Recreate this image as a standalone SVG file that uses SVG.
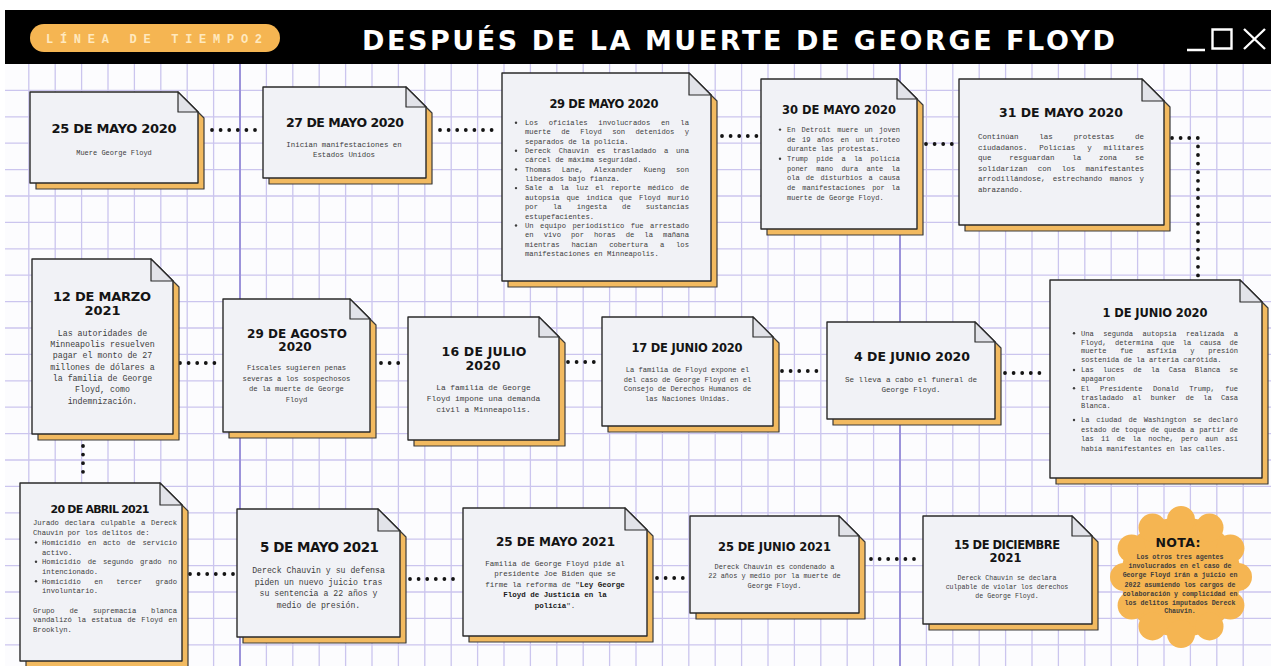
<svg xmlns="http://www.w3.org/2000/svg" width="1274" height="666" viewBox="0 0 1274 666">
<style>
.t{font-family:"DejaVu Sans","Liberation Sans",sans-serif;font-weight:bold;fill:#141414;text-anchor:middle}
.b{font-family:"Liberation Mono","DejaVu Sans Mono",monospace;fill:#3d3d3d}
.m{text-anchor:middle}
.card{fill:#F1F2F6;stroke:#2a2a2a;stroke-width:1.4;stroke-linejoin:round}
.sh{fill:#F2BA60;stroke:#3a3a3a;stroke-width:1.2;stroke-linejoin:round}
.fold{fill:#E2E3E9;stroke:#2a2a2a;stroke-width:1.2;stroke-linejoin:round}
.dots{fill:none;stroke:#141414;stroke-width:3.8;stroke-linecap:round;stroke-dasharray:0 8.6}
.bul{fill:#3d3d3d}
.grid{fill:none;stroke:#CBC5EE;stroke-width:1.3}
.gridh{fill:none;stroke:#9C93DA;stroke-width:2}
</style>
<rect width="1274" height="666" fill="#FFFFFF"/>
<g id="background">
<rect x="5" y="64" width="1266" height="602" fill="#FCFCFE"/>
<path class="grid" d="M28.8 64v602m26.4-602v602m26.4-602v602m26.4-602v602m26.4-602v602m26.4-602v602m26.4-602v602m26.4-602v602m26.4-602v602m26.4-602v602
m26.4-602v602m26.4-602v602m26.4-602v602m26.4-602v602m26.4-602v602m26.4-602v602m26.4-602v602m26.4-602v602m26.4-602v602m26.4-602v602
m26.4-602v602m26.4-602v602m26.4-602v602m26.4-602v602m26.4-602v602m26.4-602v602m26.4-602v602m26.4-602v602m26.4-602v602m26.4-602v602
m26.4-602v602m26.4-602v602m26.4-602v602m26.4-602v602m26.4-602v602m26.4-602v602m26.4-602v602m26.4-602v602m26.4-602v602m26.4-602v602
m26.4-602v602m26.4-602v602m26.4-602v602m26.4-602v602m26.4-602v602m26.4-602v602m26.4-602v602"/>
<path class="grid" d="M5 90.4h1266m-1266 26.4h1266m-1266 26.4h1266m-1266 26.4h1266m-1266 26.4h1266m-1266 26.4h1266m-1266 26.4h1266m-1266 26.4h1266
m-1266 26.4h1266m-1266 26.4h1266m-1266 26.4h1266m-1266 26.4h1266m-1266 26.4h1266m-1266 26.4h1266m-1266 26.4h1266m-1266 26.4h1266
m-1266 26.4h1266m-1266 26.4h1266m-1266 26.4h1266m-1266 26.4h1266m-1266 26.4h1266m-1266 26.4h1266"/>
<path class="gridh" d="M240 64V666M900 64V666"/>
</g>
<g id="header">
<rect x="5" y="10" width="1266" height="54" fill="#000000"/>
<rect x="30" y="24" width="250" height="28" rx="14" fill="#F5B552"/>
<text x="46" y="42.5" font-family="'Liberation Mono','DejaVu Sans Mono',monospace" font-weight="bold" font-size="12" fill="#FFE9BF" textLength="216" lengthAdjust="spacing">LÍNEA DE TIEMPO2</text>
<text x="362" y="50" font-family="'DejaVu Sans','Liberation Sans',sans-serif" font-weight="bold" font-size="27" fill="#FFFFFF" textLength="753" lengthAdjust="spacing">DESPUÉS DE LA MUERTE DE GEORGE FLOYD</text>
<path d="M1187 50H1205M1212.5 29.5h19v19h-19zM1244 29l21 20M1265 29l-21 20" fill="none" stroke="#FFFFFF" stroke-width="2.4"/>
</g>
<g id="connectors">
<path class="dots" d="M212 130H258"/>
<path class="dots" d="M440 130H497"/>
<path class="dots" d="M722 136H758"/>
<path class="dots" d="M926 144H955"/>
<path class="dots" d="M1172 138H1198V276"/>
<path class="dots" d="M1005 373H1046"/>
<path class="dots" d="M782 371H822"/>
<path class="dots" d="M568 362H598"/>
<path class="dots" d="M381 363H404"/>
<path class="dots" d="M180 363H220"/>
<path class="dots" d="M83 446V480"/>
<path class="dots" d="M190 574H234"/>
<path class="dots" d="M410 579H460"/>
<path class="dots" d="M657 578H688"/>
<path class="dots" d="M871 559H919"/>
</g>
<g id="n-25-mayo-2020">
<path class="sh" d="M36 98H184L204 118V189H36Z"/>
<path class="card" d="M30 92H178L198 112V183H30Z"/>
<path class="fold" d="M178 92V112H198Z"/>
<text class="t" x="114" y="132.7" font-size="13" textLength="125" lengthAdjust="spacing">25 DE MAYO 2020</text>
<text class="b m" x="114" y="154.5" font-size="7">Muere George Floyd</text>
</g>
<g id="n-27-mayo-2020">
<path class="sh" d="M269 93H412L432 113V184H269Z"/>
<path class="card" d="M263 87H406L426 107V178H263Z"/>
<path class="fold" d="M406 87V107H426Z"/>
<text class="t" x="345" y="126.6" font-size="12.5" textLength="118" lengthAdjust="spacing">27 DE MAYO 2020</text>
<text class="b m" font-size="7.4"><tspan x="344" y="146.5">Inician manifestaciones en</tspan><tspan x="344" y="156.5">Estados Unidos</tspan></text>
</g>
<g id="n-29-mayo-2020">
<path class="sh" d="M508 79H695L717 101V287H508Z"/>
<path class="card" d="M502 73H689L711 95V281H502Z"/>
<path class="fold" d="M689 73V95H711Z"/>
<text class="t" x="604" y="108.2" font-size="11.5" textLength="109" lengthAdjust="spacing">29 DE MAYO 2020</text>
<g class="bul"><circle cx="516" cy="122.7" r="1.2"/><circle cx="516" cy="150.7" r="1.2"/><circle cx="516" cy="169.4" r="1.2"/><circle cx="516" cy="188.1" r="1.2"/><circle cx="516" cy="225.5" r="1.2"/></g>
<g class="b" font-size="7.2">
<text x="525" y="125" word-spacing="6.44" textLength="164">Los oficiales involucrados en la</text>
<text x="525" y="134.35" word-spacing="6.02" textLength="164">muerte de Floyd son detenidos y</text>
<text x="525" y="143.7">separados de la policía.</text>
<text x="525" y="153.05" word-spacing="3.42" textLength="164">Dereck Chauvin es trasladado a una</text>
<text x="525" y="162.4">cárcel de máxima seguridad.</text>
<text x="525" y="171.75" word-spacing="6.44" textLength="164">Thomas Lane, Alexander Kueng son</text>
<text x="525" y="181.1">liberados bajo fianza.</text>
<text x="525" y="190.45" word-spacing="2.45" textLength="164">Sale a la luz el reporte médico de</text>
<text x="525" y="199.8" word-spacing="2.56" textLength="164">autopsia que indica que Floyd murió</text>
<text x="525" y="209.15" word-spacing="10.76" textLength="164">por la ingesta de sustancias</text>
<text x="525" y="218.5">estupefacientes.</text>
<text x="525" y="227.85" word-spacing="2.12" textLength="164">Un equipo periodístico fue arrestado</text>
<text x="525" y="237.2" word-spacing="5.73" textLength="164">en vivo por horas de la mañana</text>
<text x="525" y="246.55" word-spacing="7.52" textLength="164">mientras hacían cobertura a los</text>
<text x="525" y="255.9">manifestaciones en Minneapolis.</text>
</g>
</g>
<g id="n-30-mayo-2020">
<path class="sh" d="M767 85H903L923 105V235H767Z"/>
<path class="card" d="M761 79H897L917 99V229H761Z"/>
<path class="fold" d="M897 79V99H917Z"/>
<text class="t" x="839" y="114.2" font-size="11.5" textLength="114" lengthAdjust="spacing">30 DE MAYO 2020</text>
<g class="bul"><circle cx="780" cy="129.6" r="1.2"/><circle cx="780" cy="158.7" r="1.2"/></g>
<g class="b" font-size="7">
<text x="787" y="131.9" word-spacing="2" textLength="113">En Detroit muere un joven</text>
<text x="787" y="141.6" word-spacing="2.44" textLength="113">de 19 años en un tiroteo</text>
<text x="787" y="151.3">durante las protestas.</text>
<text x="787" y="161" word-spacing="4.1" textLength="113">Trump pide a la policía</text>
<text x="787" y="170.7" word-spacing="4.1" textLength="113">poner mano dura ante la</text>
<text x="787" y="180.4" word-spacing="2" textLength="113">ola de disturbios a causa</text>
<text x="787" y="190.1" word-spacing="2.67" textLength="113">de manifestaciones por la</text>
<text x="787" y="199.8">muerte de George Floyd.</text>
</g>
</g>
<g id="n-31-mayo-2020">
<path class="sh" d="M965 85H1148L1170 107V231H965Z"/>
<path class="card" d="M959 79H1142L1164 101V225H959Z"/>
<path class="fold" d="M1142 79V101H1164Z"/>
<text class="t" x="1061" y="117" font-size="12.5" textLength="124" lengthAdjust="spacing">31 DE MAYO 2020</text>
<g class="b" font-size="7.5">
<text x="978" y="139" word-spacing="16.33" textLength="166">Continúan las protestas de</text>
<text x="978" y="149.6" word-spacing="7.33" textLength="166">ciudadanos. Policías y militares</text>
<text x="978" y="160.2" word-spacing="13.37" textLength="166">que resguardan la zona se</text>
<text x="978" y="170.8" word-spacing="5.83" textLength="166">solidarizan con los manifestantes</text>
<text x="978" y="181.4" word-spacing="2.83" textLength="166">arrodillándose, estrechando manos y</text>
<text x="978" y="192">abrazando.</text>
</g>
</g>
<g id="n-1-junio-2020">
<path class="sh" d="M1056 286H1246L1268 308V484H1056Z"/>
<path class="card" d="M1050 280H1240L1262 302V478H1050Z"/>
<path class="fold" d="M1240 280V302H1262Z"/>
<text class="t" x="1155" y="317.2" font-size="11.5" textLength="105" lengthAdjust="spacing">1 DE JUNIO 2020</text>
<g class="bul"><circle cx="1074" cy="333.3" r="1.2"/><circle cx="1074" cy="370" r="1.2"/><circle cx="1074" cy="388.3" r="1.2"/><circle cx="1074" cy="420" r="1.2"/></g>
<g class="b" font-size="7.1">
<text x="1081" y="335.6" word-spacing="5.17" textLength="157">Una segunda autopsia realizada a</text>
<text x="1081" y="344.6" word-spacing="4.14" textLength="157">Floyd, determina que la causa de</text>
<text x="1081" y="353.4" word-spacing="9.43" textLength="157">muerte fue asfixia y presión</text>
<text x="1081" y="362.4">sostenida de la arteria carótida.</text>
<text x="1081" y="372.3" word-spacing="4.87" textLength="157">Las luces de la Casa Blanca se</text>
<text x="1081" y="381">apagaron</text>
<text x="1081" y="390.6" word-spacing="6.24" textLength="157">El Presidente Donald Trump, fue</text>
<text x="1081" y="399.6" word-spacing="4.99" textLength="157">trasladado al bunker de la Casa</text>
<text x="1081" y="408.4">Blanca.</text>
<text x="1081" y="422.3" word-spacing="2.43" textLength="157">La ciudad de Washington se declaró</text>
<text x="1081" y="431.6" word-spacing="0.52" textLength="157">estado de toque de queda a partir de</text>
<text x="1081" y="441" word-spacing="2.95" textLength="157">las 11 de la noche, pero aun así</text>
<text x="1081" y="450.6">había manifestantes en las calles.</text>
</g>
</g>
<g id="n-4-junio-2020">
<path class="sh" d="M833 328H981L1001 348V425H833Z"/>
<path class="card" d="M827 322H975L995 342V419H827Z"/>
<path class="fold" d="M975 322V342H995Z"/>
<text class="t" x="912" y="360.6" font-size="12.5" textLength="116" lengthAdjust="spacing">4 DE JUNIO 2020</text>
<text class="b m" font-size="7.6"><tspan x="911" y="381.5">Se lleva a cabo el funeral de</tspan><tspan x="911" y="391.5">George Floyd.</tspan></text>
</g>
<g id="n-17-junio-2020">
<path class="sh" d="M608 323H759L779 343V432H608Z"/>
<path class="card" d="M602 317H753L773 337V426H602Z"/>
<path class="fold" d="M753 317V337H773Z"/>
<text class="t" x="687" y="352.2" font-size="11.5" textLength="111" lengthAdjust="spacing">17 DE JUNIO 2020</text>
<text class="b m" font-size="7.1"><tspan x="687.5" y="372.3">La familia de Floyd expone el</tspan><tspan x="687.5" y="381.8">del caso de George Floyd en el</tspan><tspan x="687.5" y="391.3">Consejo de Derechos Humanos de</tspan><tspan x="687.5" y="401.3">las Naciones Unidas.</tspan></text>
</g>
<g id="n-16-julio-2020">
<path class="sh" d="M414 323H545L565 343V446H414Z"/>
<path class="card" d="M408 317H539L559 337V440H408Z"/>
<path class="fold" d="M539 317V337H559Z"/>
<text class="t" x="484" y="356" font-size="12.5" textLength="85" lengthAdjust="spacing">16 DE JULIO</text>
<text class="t" x="483" y="369.5" font-size="12.5">2020</text>
<text class="b m" font-size="7.9"><tspan x="483.5" y="389.6">La familia de George</tspan><tspan x="483.5" y="401.1">Floyd impone una demanda</tspan><tspan x="483.5" y="411.6">civil a Minneapolis.</tspan></text>
</g>
<g id="n-29-agosto-2020">
<path class="sh" d="M229 305H356L376 325V438H229Z"/>
<path class="card" d="M223 299H350L370 319V432H223Z"/>
<path class="fold" d="M350 299V319H370Z"/>
<text class="t" x="297" y="337.5" font-size="12" textLength="100" lengthAdjust="spacing">29 DE AGOSTO</text>
<text class="t" x="295" y="350.5" font-size="12">2020</text>
<text class="b m" font-size="7.2"><tspan x="296.5" y="370">Fiscales sugieren penas</tspan><tspan x="296.5" y="380.5">severas a los sospechosos</tspan><tspan x="296.5" y="391">de la muerte de George</tspan><tspan x="296.5" y="401.5">Floyd</tspan></text>
</g>
<g id="n-12-marzo-2021">
<path class="sh" d="M38 265H157L179 287V440H38Z"/>
<path class="card" d="M32 259H151L173 281V434H32Z"/>
<path class="fold" d="M151 259V281H173Z"/>
<text class="t" x="102" y="300.5" font-size="13" textLength="98" lengthAdjust="spacing">12 DE MARZO</text>
<text class="t" x="102.5" y="315" font-size="13">2021</text>
<text class="b m" font-size="8.3"><tspan x="102.5" y="335.8">Las autoridades de</tspan><tspan x="102.5" y="347.1">Minneapolis resuelven</tspan><tspan x="102.5" y="358.4">pagar el monto de 27</tspan><tspan x="102.5" y="369.7">millones de dólares a</tspan><tspan x="102.5" y="381">la familia  de George</tspan><tspan x="102.5" y="392.3">Floyd, como</tspan><tspan x="102.5" y="403.6">indemnización.</tspan></text>
</g>
<g id="n-20-abril-2021">
<path class="sh" d="M26 489H166L188 511V667H26Z"/>
<path class="card" d="M20 483H160L182 505V661H20Z"/>
<path class="fold" d="M160 483V505H182Z"/>
<text class="t" x="100" y="513" font-size="11" textLength="99" lengthAdjust="spacing">20 DE ABRIL 2021</text>
<g class="bul"><circle cx="36" cy="542.4" r="1.2"/><circle cx="36" cy="561.8" r="1.2"/><circle cx="36" cy="581.2" r="1.2"/></g>
<g class="b" font-size="7.2">
<text x="33" y="525.4" word-spacing="1.44" textLength="144">Jurado declara culpable a Dereck</text>
<text x="33" y="535.1">Chauvin por los delitos de:</text>
<text x="42" y="544.8" word-spacing="2.43" textLength="135">Homicidio en acto de servicio</text>
<text x="42" y="554.5">activo.</text>
<text x="42" y="564.2" word-spacing="2.43" textLength="135">Homicidio de segundo grado no</text>
<text x="42" y="573.9">intencionado.</text>
<text x="42" y="583.6" word-spacing="9" textLength="135">Homicidio en tercer grado</text>
<text x="42" y="593.3">involuntario.</text>
<text x="33" y="612.7" word-spacing="10.56" textLength="144">Grupo de supremacía blanca</text>
<text x="33" y="622.4" word-spacing="1.15" textLength="144">vandalizó la estatua de Floyd en</text>
<text x="33" y="632.1">Brooklyn.</text>
</g>
</g>
<g id="n-5-mayo-2021">
<path class="sh" d="M243 515H384L406 537V643H243Z"/>
<path class="card" d="M237 509H378L400 531V637H237Z"/>
<path class="fold" d="M378 509V531H400Z"/>
<text class="t" x="319.5" y="552" font-size="13.5" textLength="119" lengthAdjust="spacing">5 DE MAYO 2021</text>
<text class="b m" font-size="8.2"><tspan x="318.5" y="572.7">Dereck Chauvin y su defensa</tspan><tspan x="318.5" y="584.7">piden un nuevo juicio tras</tspan><tspan x="318.5" y="596.2">su sentencia a 22 años y</tspan><tspan x="318.5" y="607.7">medio de presión.</tspan></text>
</g>
<g id="n-25-mayo-2021">
<path class="sh" d="M469 514H631L653 536V642H469Z"/>
<path class="card" d="M463 508H625L647 530V636H463Z"/>
<path class="fold" d="M625 508V530H647Z"/>
<text class="t" x="555.5" y="546.4" font-size="12" textLength="119" lengthAdjust="spacing">25 DE MAYO 2021</text>
<text class="b m" font-size="7.5"><tspan x="555" y="565.5">Familia de George Floyd pide al</tspan><tspan x="555" y="576">presidente Joe Biden que se</tspan><tspan x="555" y="586.5">firme la reforma de "<tspan font-weight="bold" fill="#1a1a1a">Ley George</tspan></tspan><tspan x="555" y="597" font-weight="bold" fill="#1a1a1a">Floyd de Justicia en la</tspan><tspan x="555" y="608"><tspan font-weight="bold" fill="#1a1a1a">policía</tspan>".</tspan></text>
</g>
<g id="n-25-junio-2021">
<path class="sh" d="M696 522H845L865 542V619H696Z"/>
<path class="card" d="M690 516H839L859 536V613H690Z"/>
<path class="fold" d="M839 516V536H859Z"/>
<text class="t" x="774.5" y="551.2" font-size="11.5" textLength="113" lengthAdjust="spacing">25 DE JUNIO 2021</text>
<text class="b m" font-size="6.9"><tspan x="774.5" y="569">Dereck Chauvin es condenado a</tspan><tspan x="774.5" y="578.3">22 años y medio por la muerte de</tspan><tspan x="774.5" y="588">George Floyd.</tspan></text>
</g>
<g id="n-15-diciembre-2021">
<path class="sh" d="M929 522H1078L1098 542V630H929Z"/>
<path class="card" d="M923 516H1072L1092 536V624H923Z"/>
<path class="fold" d="M1072 516V536H1092Z"/>
<text class="t" x="1007" y="548.8" font-size="11.5" textLength="106" lengthAdjust="spacing">15 DE DICIEMBRE</text>
<text class="t" x="1005.5" y="561.5" font-size="11.5">2021</text>
<text class="b m" font-size="6.6"><tspan x="1007" y="579.5">Dereck Chauvin se declara</tspan><tspan x="1007" y="589">culpable de violar los derechos</tspan><tspan x="1007" y="598.3">de George Floyd.</tspan></text>
</g>
<g id="nota">
<g fill="#F5B552">
<circle cx="1181" cy="577" r="60"/>
<circle cx="1238" cy="577" r="14"/><circle cx="1230.4" cy="605.5" r="14"/><circle cx="1209.5" cy="626.4" r="14"/><circle cx="1181" cy="634" r="14"/><circle cx="1152.5" cy="626.4" r="14"/><circle cx="1131.6" cy="605.5" r="14"/><circle cx="1124" cy="577" r="14"/><circle cx="1131.6" cy="548.5" r="14"/><circle cx="1152.5" cy="527.6" r="14"/><circle cx="1181" cy="520" r="14"/><circle cx="1209.5" cy="527.6" r="14"/><circle cx="1230.4" cy="548.5" r="14"/>
</g>
<text class="t" x="1178" y="546.6" font-size="12.5" textLength="45" lengthAdjust="spacing">NOTA:</text>
<text class="b m" font-size="6.6" font-weight="bold" fill="#3a2a12"><tspan x="1180" y="559">Los otros tres agentes</tspan><tspan x="1180" y="568">involucrados en el caso de</tspan><tspan x="1180" y="577.3">George Floyd irán a juicio en</tspan><tspan x="1180" y="586.6">2022 asumiendo los cargos de</tspan><tspan x="1180" y="596">colaboración  y complicidad en</tspan><tspan x="1180" y="604.6">los delitos imputados Dereck</tspan><tspan x="1180" y="613.3">Chauvin.</tspan></text>
</g>
</svg>
